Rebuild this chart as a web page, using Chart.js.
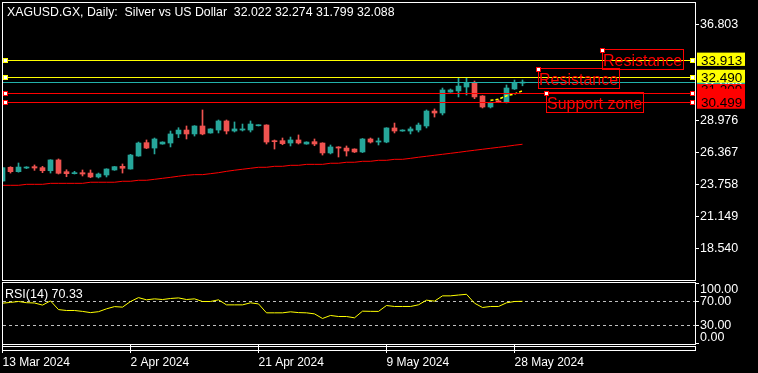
<!DOCTYPE html>
<html>
<head>
<meta charset="utf-8">
<title>XAGUSD Daily</title>
<script src="https://cdn.jsdelivr.net/npm/chart.js@4.4.1/dist/chart.umd.min.js"></script>
<style>
  html, body { margin: 0; padding: 0; background: #000; }
  #wrap { position: relative; width: 758px; height: 373px; overflow: hidden; background: #000; }
  canvas { position: absolute; left: 0; }
  #price-chart { top: 0; }
  #rsi-chart { top: 282px; }
</style>
</head>
<body>
<div id="wrap">
  <canvas id="price-chart" width="758" height="282"></canvas>
  <canvas id="rsi-chart" width="758" height="91"></canvas>
</div>
<script>
const symbolName = "XAGUSD.GX";
const timeframe = "Daily";
const description = "Silver vs US Dollar";

const dates = [
  "13 Mar 2024", "14 Mar 2024", "15 Mar 2024", "17 Mar 2024", "18 Mar 2024", "19 Mar 2024", "20 Mar 2024", "21 Mar 2024",
  "22 Mar 2024", "24 Mar 2024", "25 Mar 2024", "26 Mar 2024", "27 Mar 2024", "28 Mar 2024", "31 Mar 2024", "1 Apr 2024",
  "2 Apr 2024", "3 Apr 2024", "4 Apr 2024", "5 Apr 2024", "7 Apr 2024", "8 Apr 2024", "9 Apr 2024", "10 Apr 2024",
  "11 Apr 2024", "12 Apr 2024", "14 Apr 2024", "15 Apr 2024", "16 Apr 2024", "17 Apr 2024", "18 Apr 2024", "19 Apr 2024",
  "21 Apr 2024", "22 Apr 2024", "23 Apr 2024", "24 Apr 2024", "25 Apr 2024", "26 Apr 2024", "28 Apr 2024", "29 Apr 2024",
  "30 Apr 2024", "1 May 2024", "2 May 2024", "3 May 2024", "5 May 2024", "6 May 2024", "7 May 2024", "8 May 2024",
  "9 May 2024", "10 May 2024", "12 May 2024", "13 May 2024", "14 May 2024", "15 May 2024", "16 May 2024", "17 May 2024",
  "19 May 2024", "20 May 2024", "21 May 2024", "22 May 2024", "23 May 2024", "24 May 2024", "26 May 2024", "27 May 2024",
  "28 May 2024", "29 May 2024",
];

const opens = [
  24.03, 25.15, 24.79, 25.09, 25.20, 25.12, 24.87, 25.75, 24.79, 24.63, 24.71, 24.68, 24.36, 24.52, 24.93, 25.23,
  25.01, 26.07, 27.16, 26.72, 27.05, 27.13, 27.87, 28.19, 27.87, 28.52, 27.95, 28.19, 28.93, 28.11, 28.19, 28.19,
  28.54, 28.60, 27.30, 27.32, 27.13, 27.38, 27.05, 27.24, 27.13, 26.32, 26.81, 26.72, 26.64, 26.40, 27.46, 27.21,
  27.21, 28.36, 28.11, 28.11, 28.19, 28.52, 29.74, 29.58, 31.29, 31.38, 31.70, 32.03, 30.97, 30.07, 30.56, 30.48,
  31.54, 32.022,
];
const highs = [
  25.15, 25.20, 25.50, 25.20, 25.34, 25.23, 25.77, 25.83, 24.95, 24.82, 24.93, 24.93, 24.68, 25.03, 25.22, 25.42,
  26.21, 27.21, 27.38, 27.54, 27.23, 28.11, 28.38, 28.52, 28.55, 29.83, 28.30, 29.01, 29.01, 28.85, 28.68, 28.93,
  28.62, 28.62, 27.38, 27.54, 27.62, 27.79, 27.23, 27.46, 27.15, 26.97, 26.83, 26.89, 26.66, 27.50, 27.54, 27.54,
  28.38, 28.76, 28.21, 28.44, 28.76, 29.83, 29.91, 31.62, 31.54, 32.44, 32.44, 32.19, 31.00, 30.48, 30.64, 31.87,
  32.27, 32.274,
];
const lows = [
  24.00, 24.68, 24.75, 25.04, 24.90, 24.71, 24.68, 24.60, 24.38, 24.60, 24.44, 24.30, 24.28, 24.36, 24.90, 24.68,
  25.00, 26.05, 26.67, 26.24, 27.03, 26.81, 27.57, 27.46, 27.70, 27.80, 27.93, 27.95, 27.87, 28.03, 28.11, 28.03,
  28.52, 27.05, 26.64, 26.99, 26.89, 27.05, 27.03, 26.91, 26.15, 26.24, 25.99, 26.07, 26.35, 26.35, 27.13, 26.97,
  27.15, 27.95, 28.09, 27.87, 28.03, 28.36, 29.25, 29.42, 31.27, 30.89, 31.05, 30.75, 29.99, 29.99, 30.42, 30.40,
  31.50, 31.799,
];
const closes = [
  25.12, 24.79, 25.17, 25.17, 25.09, 24.87, 25.75, 24.66, 24.63, 24.71, 24.60, 24.36, 24.60, 25.01, 25.20, 25.07,
  26.15, 27.13, 26.72, 27.46, 27.21, 27.87, 28.19, 27.87, 28.52, 27.87, 28.28, 28.93, 28.11, 28.28, 28.28, 28.68,
  28.60, 27.21, 27.24, 27.08, 27.38, 27.13, 27.21, 27.05, 26.32, 26.81, 26.72, 26.48, 26.40, 27.46, 27.21, 27.30,
  28.36, 28.11, 28.19, 28.28, 28.60, 29.74, 29.58, 31.46, 31.46, 31.78, 32.03, 30.89, 30.07, 30.40, 30.48, 31.62,
  32.03, 32.088,
];

// slow moving average (red)
const ma = [
  23.68, 23.68, 23.68, 23.76, 23.76, 23.76, 23.84, 23.84, 23.84, 23.84, 23.84, 23.93, 23.93, 23.93, 23.93, 24.01,
  24.01, 24.09, 24.09, 24.17, 24.25, 24.33, 24.42, 24.50, 24.55, 24.55, 24.63, 24.71, 24.82, 24.91, 24.99, 25.07,
  25.15, 25.15, 25.23, 25.23, 25.31, 25.31, 25.39, 25.39, 25.39, 25.48, 25.48, 25.56, 25.56, 25.64, 25.64, 25.72,
  25.72, 25.80, 25.80, 25.88, 25.97, 26.05, 26.13, 26.21, 26.29, 26.37, 26.46, 26.54, 26.62, 26.70, 26.78, 26.86,
  26.95, 27.03,
];
// short dotted yellow line, only the last bars
const fastMa = Array(61).fill(null).concat([30.62, 30.70, 30.99, 31.13, 31.40]);

const rsi = [
  67.2, 68.5, 70.0, 68.0, 67.5, 64.0, 71.0, 56.5, 55.0, 55.0, 53.5, 51.5, 53.0, 57.8, 61.5, 60.6,
  70.0, 76.5, 72.8, 74.4, 73.3, 75.0, 76.0, 73.3, 74.4, 70.0, 70.0, 72.8, 64.4, 64.4, 64.4, 67.8,
  66.0, 51.1, 51.1, 51.1, 52.8, 51.5, 51.1, 49.4, 41.7, 46.7, 45.0, 45.0, 42.8, 53.9, 53.6, 53.5,
  63.3, 61.7, 61.7, 61.7, 64.5, 72.2, 70.6, 79.4, 79.4, 80.8, 82.0, 67.2, 60.0, 61.7, 61.7, 67.8,
  70.0, 70.33,
];
const rsiPeriod = 14;
const rsiLevels = [70, 30];
const rsiTicks = [100, 70, 30, 0];

const priceTicks = [36.803, 28.976, 26.367, 23.758, 21.149, 18.540];
const dateTickIdx = [0, 16, 32, 48, 64];

const resistanceLevels = [33.913, 32.490];
const supportLevels = [31.209, 30.499];
const lastPrice = 32.088;

const noteTexts = ["Resistance", "Resistance", "Support zone"];
const noteBars = [75, 67, 68];
const notePrices = [34.72, 33.21, 31.209];

const FONT = '"Liberation Sans", Arial, sans-serif';
const TEAL = "#26a69a";
const RED = "#ef5350";
const LINE_RED = "#ff0000";
const YELLOW = "#ffff00";
const BID = "#20b2aa";

// bar i sits at 2.5 + 8*i px, empty room on the right like the terminal
const X_MIN = 0.0625;
const X_MAX = 86.5625;

Chart.defaults.font.family = FONT;
Chart.defaults.color = "#fff";
Chart.defaults.animation = false;

const bars = dates.map((d, i) => i);
const candleColors = bars.map(i => closes[i] >= opens[i] ? TEAL : RED);

// keep the plot area where the terminal puts it, no room reserved for edge labels
function fitAxis(size) {
  return s => {
    if (s.isHorizontal()) s.height = size; else s.width = size;
    s.paddingTop = 0;
    s.paddingBottom = 0;
    s.paddingLeft = 0;
    s.paddingRight = 0;
  };
}

function levelLine(ctx, yScale, value, area, color) {
  const py = Math.round(yScale.getPixelForValue(value));
  ctx.strokeStyle = color;
  ctx.lineWidth = 1;
  ctx.beginPath();
  ctx.moveTo(area.left, py + 0.5);
  ctx.lineTo(area.right, py + 0.5);
  ctx.stroke();
  [area.left, area.right - 5].forEach(x0 => {
    ctx.fillStyle = color;
    ctx.fillRect(x0, py - 2, 5, 5);
    ctx.fillStyle = "#fff";
    ctx.fillRect(x0 + 1, py - 1, 3, 3);
  });
}

function priceBox(ctx, py, top, bottom, textDy, txt, fill, color) {
  ctx.fillStyle = fill;
  ctx.fillRect(697, py + top, 48, bottom - top);
  ctx.fillStyle = color;
  ctx.fillText(txt, 701, py + textDy);
}

const priceDecor = {
  id: "priceDecor",
  afterDatasetsDraw(chart) {
    const { ctx, chartArea: a, scales: { x, y } } = chart;
    ctx.save();
    ctx.beginPath();
    ctx.rect(a.left, a.top, a.right - a.left, a.bottom - a.top);
    ctx.clip();

    const bidY = Math.round(y.getPixelForValue(lastPrice));
    ctx.strokeStyle = BID;
    ctx.lineWidth = 1;
    ctx.beginPath();
    ctx.moveTo(a.left, bidY + 0.5);
    ctx.lineTo(a.right, bidY + 0.5);
    ctx.stroke();

    resistanceLevels.forEach(v => levelLine(ctx, y, v, a, YELLOW));
    supportLevels.forEach(v => levelLine(ctx, y, v, a, LINE_RED));

    ctx.font = `16px ${FONT}`;
    ctx.textBaseline = "alphabetic";
    noteTexts.forEach((t, k) => {
      const nx = Math.floor(x.getPixelForValue(noteBars[k]));
      const ny = Math.round(y.getPixelForValue(notePrices[k]));
      const tw = ctx.measureText(t).width;
      ctx.strokeStyle = LINE_RED;
      ctx.strokeRect(nx + 0.5, ny - 0.5, Math.round(tw) + 2, 20);
      ctx.fillStyle = LINE_RED;
      ctx.fillText(t, nx + 1, ny + 16);
      ctx.fillRect(nx - 2, ny - 2, 5, 5);
      ctx.fillStyle = "#fff";
      ctx.fillRect(nx - 1, ny - 1, 3, 3);
    });
    ctx.restore();
  },
  afterDraw(chart) {
    const { ctx, chartArea: a, scales: { y } } = chart;
    ctx.save();
    ctx.strokeStyle = "#fff";
    ctx.lineWidth = 1;
    ctx.strokeRect(a.left - 0.5, a.top - 0.5, a.right - a.left + 1, a.bottom - a.top + 1);

    const last = closes.length - 1;
    const ohlc = [opens, highs, lows, closes].map(s => s[last].toFixed(3)).join(" ");
    ctx.font = `12.3px ${FONT}`;
    ctx.fillStyle = "#fff";
    ctx.textBaseline = "alphabetic";
    ctx.fillText(`${symbolName}, ${timeframe}:  ${description}  ${ohlc}`, 7, 16);

    // price tags on the axis, overlapping the way the terminal stacks them
    ctx.font = `13.5px ${FONT}`;
    priceBox(ctx, y.getPixelForValue(lastPrice), -7, 6, 5, lastPrice.toFixed(3), BID, "#fff");
    priceBox(ctx, y.getPixelForValue(supportLevels[0]), -9, 5, 1, supportLevels[0].toFixed(3), LINE_RED, "#000");
    priceBox(ctx, y.getPixelForValue(supportLevels[1]), -13, 7, 5, supportLevels[1].toFixed(3), LINE_RED, "#000");
    priceBox(ctx, y.getPixelForValue(resistanceLevels[0]), -7.3, 6, 5, resistanceLevels[0].toFixed(3), YELLOW, "#000");
    priceBox(ctx, y.getPixelForValue(resistanceLevels[1]), -7.6, 5.4, 5, resistanceLevels[1].toFixed(3), YELLOW, "#000");
    ctx.restore();
  },
};

const rsiDecor = {
  id: "rsiDecor",
  afterDraw(chart) {
    const { ctx, chartArea: a } = chart;
    ctx.save();
    ctx.strokeStyle = "#fff";
    ctx.lineWidth = 1;
    ctx.strokeRect(a.left - 0.5, a.top - 0.5, a.right - a.left + 1, a.bottom - a.top + 1);
    ctx.strokeRect(a.left - 0.5, a.bottom + 2.5, a.right - a.left + 1, 4);
    ctx.font = `12.5px ${FONT}`;
    ctx.fillStyle = "#fff";
    ctx.textBaseline = "alphabetic";
    ctx.fillText(`RSI(${rsiPeriod}) ${rsi[rsi.length - 1].toFixed(2)}`, 5, 16);
    ctx.restore();
  },
};

new Chart(document.getElementById("price-chart"), {
  type: "bar",
  data: {
    datasets: [
      {
        label: "Body",
        data: bars.map(i => ({ x: i, y: [opens[i], closes[i]] })),
        backgroundColor: candleColors,
        borderWidth: 0,
        barThickness: 5,
        maxBarThickness: 5,
        minBarLength: 1,
        grouped: false,
        order: 1,
      },
      {
        label: "Wick",
        data: bars.map(i => ({ x: i, y: [lows[i], highs[i]] })),
        backgroundColor: candleColors,
        borderWidth: 0,
        barThickness: 1,
        maxBarThickness: 1,
        minBarLength: 1,
        grouped: false,
        order: 2,
      },
      {
        type: "line",
        label: "MA",
        data: bars.map(i => ({ x: i, y: ma[i] })),
        borderColor: LINE_RED,
        borderWidth: 1,
        pointRadius: 0,
        order: 0,
      },
      {
        type: "line",
        label: "Fast",
        data: bars.filter(i => fastMa[i] !== null).map(i => ({ x: i, y: fastMa[i] })),
        borderColor: YELLOW,
        borderWidth: 1.5,
        borderDash: [3, 2],
        pointRadius: 0,
        order: 0,
      },
    ],
  },
  options: {
    responsive: false,
    layout: { padding: { left: 3, top: 3, right: 0, bottom: 2 } },
    plugins: { legend: { display: false }, tooltip: { enabled: false } },
    scales: {
      x: { type: "linear", display: false, min: X_MIN, max: X_MAX, offset: false },
      y: {
        position: "right",
        min: 15.952,
        max: 38.557,
        afterFit: fitAxis(63),
        afterBuildTicks: s => { s.ticks = priceTicks.map(value => ({ value })); },
        ticks: {
          color: "#fff",
          font: { size: 12.5 },
          padding: 1,
          autoSkip: false,
          callback: v => Number(v).toFixed(3),
        },
        grid: { display: true, drawOnChartArea: false, drawTicks: true, tickLength: 4, tickColor: "#fff" },
        border: { display: false },
      },
    },
  },
  plugins: [priceDecor],
});

new Chart(document.getElementById("rsi-chart"), {
  type: "line",
  data: {
    datasets: [
      {
        label: "RSI",
        data: bars.map(i => ({ x: i, y: rsi[i] })),
        borderColor: YELLOW,
        borderWidth: 1,
        pointRadius: 0,
      },
      ...rsiLevels.map(v => ({
        label: `Level ${v}`,
        data: [{ x: X_MIN, y: v }, { x: X_MAX, y: v }],
        borderColor: "#c0c0c0",
        borderWidth: 1,
        borderDash: [3, 3],
        pointRadius: 0,
      })),
    ],
  },
  options: {
    responsive: false,
    layout: { padding: { left: 3, top: 1, right: 0, bottom: 0 } },
    plugins: { legend: { display: false }, tooltip: { enabled: false } },
    scales: {
      x: {
        type: "linear",
        position: "bottom",
        min: X_MIN,
        max: X_MAX,
        offset: false,
        afterFit: fitAxis(29),
        afterBuildTicks: s => { s.ticks = dateTickIdx.map(value => ({ value })); },
        ticks: {
          color: "#fff",
          font: { size: 12 },
          align: "start",
          padding: 2,
          maxRotation: 0,
          minRotation: 0,
          autoSkip: false,
          callback: v => dates[v],
        },
        grid: { display: true, drawOnChartArea: false, drawTicks: true, tickLength: 9, tickColor: "#fff", offset: false },
        border: { display: false },
      },
      y: {
        position: "right",
        min: -0.83,
        max: 100.83,
        afterFit: fitAxis(63),
        afterBuildTicks: s => {
          s.ticks = [];
          rsiTicks.forEach(v => {
            s.ticks.push({ value: v });
            // captions for 100 and 0 are pulled inside the panel
            if (v === 100) s.ticks.push({ value: v - 10, edge: v });
            if (v === 0) s.ticks.push({ value: v + 10, edge: v });
          });
        },
        ticks: {
          color: "#fff",
          font: { size: 12.5 },
          padding: 1,
          autoSkip: false,
          callback: (v, i, t) => {
            if (t[i].edge !== undefined) return t[i].edge.toFixed(2);
            if (v === 100 || v === 0) return "";
            return Number(v).toFixed(2);
          },
        },
        grid: {
          display: true,
          drawOnChartArea: false,
          drawTicks: true,
          tickLength: 4,
          tickColor: c => (c.tick && c.tick.edge !== undefined) ? "rgba(0,0,0,0)" : "#fff",
        },
        border: { display: false },
      },
    },
  },
  plugins: [rsiDecor],
});
</script>
</body>
</html>
